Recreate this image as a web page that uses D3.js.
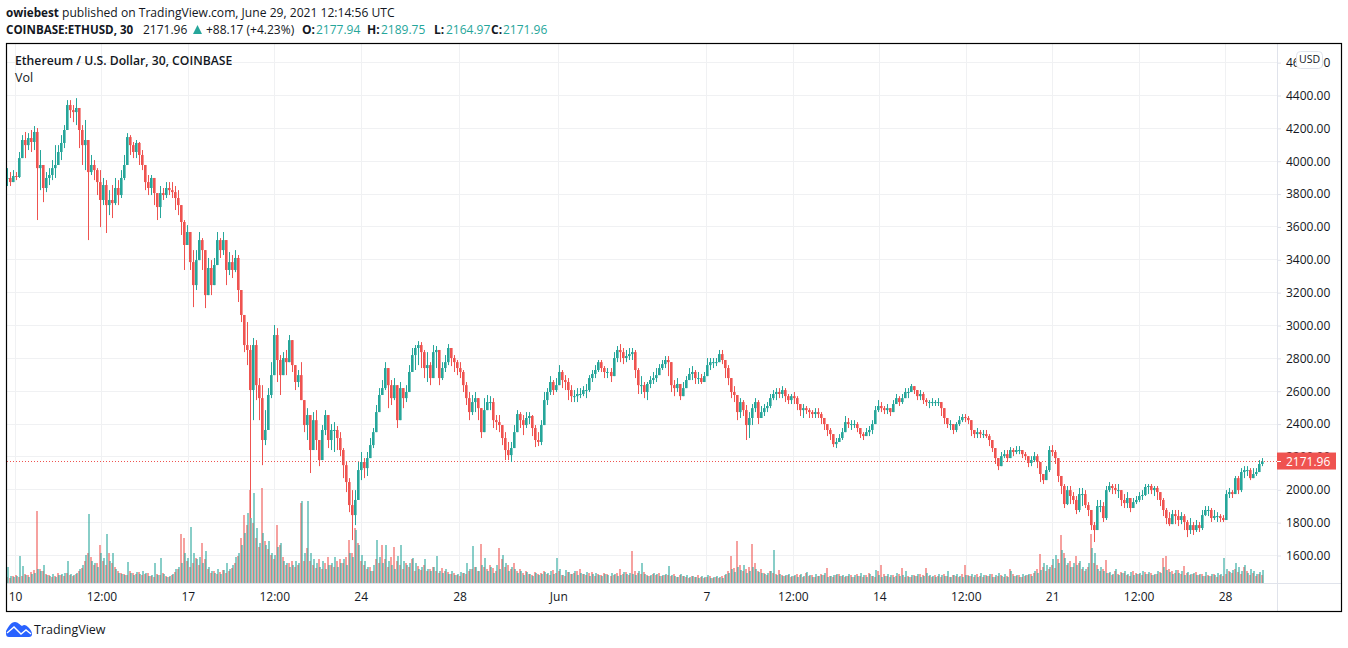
<!DOCTYPE html>
<html><head><meta charset="utf-8">
<style>
html,body{margin:0;padding:0;background:#fff;overflow:hidden}
svg{display:block}
text{font-family:"Open Sans",sans-serif}
</style>
<script src="https://cdn.jsdelivr.net/npm/d3@7"></script>
</head><body><svg id="c" width="1348" height="648"></svg>
<script>
const priceTicks=[1600,1800,2000,2200,2400,2600,2800,3000,3200,3400,3600,3800,4000,4200,4400,4600];
const dayTicks=[0,3.5,7,10.5,14,18,22,28,31.5,35,38.5,42,45.5,49];
const dayLabels=["10","12:00","17","12:00","24","28","Jun","7","12:00","14","12:00","21","12:00","28"];
const firstDay=-0.324, lastDay=50.5;
const lastPrice=2171.96;
const closes=[3898,3873,3910,3904,4019,4129,4098,4141,4117,4178,3958,3977,3837,3898,3916,3958,3977,4056,4111,4190,
4342,4311,4299,4324,4190,4098,4129,3934,3977,3946,3873,
3764,3855,3733,3764,3745,3837,3794,3898,3977,4147,4098,4056,4111,4038,3977,3873,3837,3898,3806,3721,
3806,3794,3837,3824,3812,3776,3733,3630,3490,3569,3386,3246,3398,3520,3459,3185,3350,3246,3368,3520,
3459,3520,3338,3386,3338,3411,3216,3064,2881,2851,
2607,2881,2637,2558,2303,2364,2577,2698,2942,2790,2698,2802,2777,2911,2759,2656,2698,2546,2394,2455,
2242,2424,2303,2181,2364,2455,2303,2364,2364,2315,2242,2150,2047,1907,1846,1938,2120,2169,2132,2193,
2272,2351,2473,2577,2619,2741,2637,2558,2637,2424,2619,2558,2595,2717,2820,2863,2881,2838,2741,2759,
2680,2838,2851,2680,2741,2777,2863,2802,2777,2741,2717,2637,2558,2473,2534,2558,2497,2351,2485,2534,
2534,2424,2412,2394,2315,2242,2211,2254,2351,2461,2424,2394,2437,2449,2376,2303,2291,2394,2546,2595,
2656,2607,2637,2717,2668,2656,2607,2570,2570,2583,2583,2607,2607,2680,2705,2729,2777,2741,2717,2717,
2692,2802,2851,2838,2802,2814,2826,2838,2729,2637,2637,2595,2644,2668,2680,2698,2741,2765,2790,2777,
2637,2619,2644,2570,2619,2668,2705,2717,2680,2680,2656,2692,2759,2777,2777,2777,2826,2790,2741,2680,
2595,2577,2473,2534,2485,2394,2437,2497,2534,2437,2473,2497,2510,2558,2583,2595,2583,2607,2570,2546,
2570,2558,2522,2485,2497,2485,2473,2461,2473,2461,2437,2400,2364,2339,2278,2291,2315,2351,2412,2400,
2400,2400,2376,2339,2327,2351,2364,2400,2485,2510,2497,2485,2497,2473,2522,2558,2534,2558,2595,2595,
2631,2607,2570,2583,2546,2534,2534,2534,2534,2534,2497,2437,2400,2400,2364,2400,2424,2443,2437,2424,
2364,2339,2351,2339,2339,2327,2303,2254,2193,2144,2205,2217,2193,2242,2230,2242,2242,2217,2205,2163,
2181,2205,2169,2096,2059,2120,2242,2230,2193,2084,2023,1913,1998,1962,1938,1877,1974,1974,1907,1877,
1785,1755,1901,1901,1828,1998,2023,2011,1998,1998,1938,1919,1950,1889,1925,1938,1962,1968,2017,2023,
1998,2011,1986,1938,1877,1828,1791,1852,1840,1816,1840,1804,1755,1785,1755,1785,1767,1846,1877,1877,
1828,1840,1840,1828,1816,1974,1986,1974,2071,1998,2108,2120,2120,2071,2096,2108,2157,2172];
const highs=[3958,3934,3946,3934,4056,4159,4178,4171,4190,4214,4202,4068,3977,3934,3958,4007,4098,4098,4159,4220,
4372,4372,4342,4384,4281,4220,4251,4129,4038,4007,3958,
3946,3898,3885,3824,3855,3898,3885,3946,4038,4171,4159,4117,4129,4117,4068,3977,3916,3916,3898,3794,
3849,3837,3873,3873,3873,3849,3824,3733,3642,3611,3569,3459,3459,3569,3532,3459,3411,3398,3411,3569,
3532,3569,3520,3447,3429,3459,3429,3185,3045,3021,
2881,2924,2911,2680,2637,2485,2619,2777,3003,2984,2820,2838,2851,2942,2851,2759,2729,2777,2534,2497,
2351,2473,2485,2303,2394,2485,2424,2400,2412,2388,2351,2254,2169,2071,1998,1998,2169,2230,2193,2230,
2315,2376,2516,2619,2668,2777,2729,2668,2680,2595,2656,2607,2637,2759,2863,2881,2905,2899,2851,2838,
2777,2881,2875,2851,2777,2820,2887,2863,2820,2790,2777,2729,2656,2595,2577,2595,2546,2497,2558,2577,
2570,2558,2455,2455,2394,2351,2291,2291,2394,2485,2473,2455,2473,2473,2455,2394,2351,2424,2595,2619,
2692,2668,2680,2759,2729,2698,2680,2637,2607,2619,2619,2631,2644,2698,2729,2759,2790,2790,2753,2741,
2741,2838,2875,2887,2863,2851,2863,2863,2851,2741,2692,2656,2656,2692,2717,2741,2765,2790,2814,2814,
2717,2668,2680,2637,2656,2692,2741,2753,2729,2717,2705,2717,2802,2802,2802,2802,2851,2851,2777,2759,
2668,2631,2558,2558,2546,2516,2473,2522,2558,2546,2510,2522,2534,2583,2607,2619,2619,2631,2619,2583,
2583,2595,2570,2522,2522,2510,2497,2485,2497,2497,2473,2437,2400,2376,2327,2315,2339,2376,2449,2437,
2424,2424,2412,2376,2351,2376,2388,2424,2510,2546,2534,2510,2522,2497,2546,2583,2570,2583,2619,2619,
2644,2631,2607,2607,2595,2558,2546,2558,2546,2558,2534,2473,2437,2424,2400,2412,2449,2461,2461,2449,
2424,2364,2376,2364,2364,2364,2339,2303,2254,2193,2230,2242,2242,2260,2254,2266,2266,2242,2230,2205,
2205,2230,2217,2169,2096,2144,2266,2272,2242,2193,2084,2035,2023,2023,1986,1962,2011,2011,1998,1925,
1877,1804,1938,1938,1925,2023,2047,2035,2035,2035,1998,1974,1986,1950,1950,1962,1986,1998,2035,2035,
2035,2023,2023,1986,1950,1889,1864,1877,1877,1877,1864,1852,1816,1828,1804,1816,1804,1877,1901,1901,
1889,1877,1864,1852,1846,1998,2011,1998,2084,2084,2132,2144,2144,2132,2132,2132,2181,2193];
const lows=[3849,3849,3873,3885,3898,4019,4019,4068,4056,4068,3642,3824,3751,3812,3855,3885,3898,3977,4007,4080,
4220,4263,4238,4220,4080,3977,3946,3520,3916,3885,3794,
3599,3733,3563,3672,3654,3733,3733,3776,3885,3977,4038,4019,4019,3977,3946,3824,3794,3794,3733,3642,
3654,3764,3776,3794,3776,3703,3672,3551,3338,3490,3338,3112,3216,3429,3338,3106,3185,3185,3307,3411,
3411,3429,3246,3307,3289,3325,3143,3021,2838,2759,
1828,2424,2546,2424,2150,2272,2424,2558,2698,2656,2577,2717,2698,2777,2717,2607,2625,2546,2351,2303,
2102,2303,2242,2144,2211,2333,2254,2242,2230,2242,2205,2071,1986,1864,1694,1785,1998,2059,2071,2084,
2193,2254,2394,2497,2577,2607,2497,2516,2546,2376,2516,2497,2534,2637,2717,2729,2759,2741,2680,2656,
2637,2729,2741,2637,2668,2717,2759,2753,2717,2698,2680,2595,2516,2424,2455,2473,2424,2315,2437,2485,
2485,2376,2364,2351,2272,2181,2181,2169,2272,2388,2376,2333,2376,2400,2327,2260,2266,2272,2394,2516,
2577,2577,2595,2668,2619,2607,2546,2534,2534,2534,2558,2570,2558,2595,2656,2680,2717,2717,2680,2680,
2656,2717,2777,2777,2765,2777,2790,2790,2680,2583,2583,2558,2546,2619,2644,2656,2705,2729,2741,2692,
2595,2570,2595,2546,2583,2631,2668,2668,2644,2644,2644,2656,2717,2729,2741,2753,2790,2765,2680,2637,
2558,2534,2424,2437,2449,2303,2315,2394,2473,2400,2437,2449,2473,2497,2546,2546,2558,2558,2534,2522,
2522,2522,2485,2449,2437,2461,2437,2437,2437,2437,2400,2364,2327,2303,2260,2254,2291,2303,2376,2376,
2364,2376,2351,2315,2303,2327,2327,2339,2400,2473,2473,2461,2461,2449,2473,2522,2510,2522,2558,2558,
2595,2583,2546,2546,2522,2510,2497,2510,2510,2510,2449,2400,2376,2364,2339,2351,2388,2412,2412,2400,
2327,2315,2315,2315,2315,2315,2266,2230,2157,2120,2169,2193,2169,2193,2205,2217,2217,2193,2181,2138,
2144,2169,2132,2047,2035,2059,2108,2205,2157,2047,1974,1889,1907,1913,1913,1852,1864,1901,1889,1840,
1755,1682,1755,1864,1804,1816,1986,1974,1974,1950,1901,1889,1889,1864,1889,1913,1925,1938,1962,1974,
1974,1962,1938,1901,1840,1791,1779,1804,1791,1779,1791,1755,1712,1731,1725,1743,1743,1755,1840,1840,
1804,1816,1804,1804,1804,1828,1950,1950,1974,1974,1986,2071,2084,2059,2071,2084,2108,2144];
const volRed=[6,5,7,8,6,7,9,8,11,13,72,14,12,9,8,6,7,10,8,7,
10,8,7,9,12,15,22,30,26,18,20,38,22,18,30,20,16,12,10,9,
8,12,10,9,11,8,9,10,7,6,9,8,10,7,6,8,11,14,49,45,
22,16,20,25,18,40,24,14,10,12,9,11,13,10,12,15,20,27,45,68,
58,93,60,45,36,95,42,34,28,24,58,38,26,18,20,22,16,18,80,22,
35,22,18,15,24,14,20,26,18,16,22,24,20,26,43,30,55,40,22,18,
14,16,12,24,20,38,24,16,26,36,22,18,14,20,16,24,12,17,13,18,
12,14,16,12,10,15,12,11,9,10,8,7,10,9,12,14,16,12,39,16,
14,18,15,12,35,24,16,18,14,20,12,14,10,12,9,8,11,9,10,12,
9,8,13,10,12,8,7,11,9,10,12,14,9,8,10,11,7,9,8,10,
9,7,8,10,14,9,11,8,32,12,10,9,11,8,7,9,8,10,7,8,
8,7,9,6,8,7,6,5,7,6,8,6,5,6,7,5,6,5,7,8,
12,27,15,42,18,12,14,16,39,20,12,14,10,8,12,10,9,13,8,7,
8,6,7,9,8,6,10,7,8,6,7,9,8,15,7,6,8,9,7,6,
7,8,6,9,7,6,8,10,7,6,12,18,9,7,6,8,7,9,15,6,
7,6,8,7,9,8,15,7,6,8,7,6,9,7,6,8,7,6,9,18,
8,7,6,9,7,6,8,7,9,6,7,8,6,7,14,9,7,8,6,7,
8,9,10,14,29,16,12,14,18,15,24,48,30,18,22,16,27,20,14,12,
16,49,20,18,12,14,23,10,8,12,9,11,10,8,7,12,10,9,8,11,
9,10,8,9,11,25,27,14,12,10,13,9,17,10,8,9,11,8,9,7,
8,7,9,6,8,7,9,12,10,14,11,9,16,12,8,10,7,9,8];
const volTeal=[16,7,6,7,27,17,8,6,9,10,14,12,18,8,7,9,6,8,9,10,
22,9,8,10,14,18,28,69,22,20,16,30,25,49,22,30,14,10,9,8,
21,10,8,11,9,12,10,7,8,20,8,25,9,6,7,9,14,16,20,30,
25,56,30,24,26,20,32,16,12,10,14,9,13,20,14,18,26,30,38,50,
70,65,90,55,40,50,38,42,30,28,36,40,22,20,16,18,22,20,82,30,
82,30,24,20,16,22,14,18,20,26,16,20,24,18,30,26,53,38,28,22,
16,12,18,43,26,20,38,22,18,14,27,38,22,18,20,25,20,14,16,24,
14,12,16,27,12,10,14,9,12,8,9,11,10,20,14,37,16,12,18,25,
12,16,10,18,14,28,20,12,16,14,10,12,8,11,9,7,10,8,9,11,
10,12,9,25,14,8,13,11,9,12,8,10,9,11,7,9,10,8,7,9,
8,10,9,7,8,11,9,10,9,8,12,20,9,7,8,10,9,7,8,9,
17,8,7,6,9,7,8,6,7,6,5,7,6,8,5,6,7,6,5,9,
10,14,11,16,13,18,10,12,16,14,11,10,9,10,12,33,8,9,7,8,
9,7,8,6,9,7,11,8,6,9,7,8,10,6,7,8,9,7,8,7,
9,6,8,7,10,8,6,9,7,13,8,6,7,9,8,6,10,7,8,12,
6,8,7,9,6,7,10,8,7,6,9,8,7,12,6,8,9,7,6,8,
7,9,8,6,10,8,7,9,6,8,10,7,9,6,12,7,8,6,9,8,
9,7,12,10,13,20,18,16,24,28,20,33,25,20,16,20,18,22,16,14,
20,35,30,14,16,12,10,11,9,14,8,10,12,9,11,8,9,10,12,9,
11,8,9,12,10,16,13,11,9,13,10,12,8,11,9,10,8,9,7,11,
7,9,8,10,9,25,14,11,13,20,16,12,18,10,14,12,9,11,13];

const UP="#26a69a",DOWN="#ef5350",TXT="#131722",GRID="#f0f1f3",AXIS="#e0e3eb";
const svg=d3.select("#c");
const pane={l:7,r:1277,t:44,b:583};
const x=d3.scaleLinear().domain([0,49]).range([15,1225]);
const y=d3.scaleLinear().domain([1600,4400]).range([555.5,95.5]);
const yVol=d3.scaleLinear().domain([0,100]).range([583,483]);
const n=closes.length;
const barDay=d3.scaleLinear().domain([0,n-1]).range([firstDay,lastDay]);
const barX=i=>Math.round(x(barDay(i)));

svg.append("defs").append("clipPath").attr("id","pane").append("rect")
  .attr("x",pane.l).attr("y",pane.t).attr("width",pane.r-pane.l).attr("height",pane.b-pane.t);

// grid
const grid=svg.append("g").attr("fill","none").attr("stroke",GRID).attr("stroke-width",1);
grid.selectAll("line.h").data(priceTicks).join("line")
  .attr("x1",pane.l).attr("x2",pane.r).attr("y1",d=>Math.floor(y(d))+.5).attr("y2",d=>Math.floor(y(d))+.5);
grid.selectAll("line.v").data(dayTicks).join("line")
  .attr("y1",pane.t).attr("y2",pane.b).attr("x1",d=>Math.round(x(d))+.5).attr("x2",d=>Math.round(x(d))+.5);

const plot=svg.append("g").attr("clip-path","url(#pane)");
// volume
const vols=plot.append("g");
vols.selectAll("rect.r").data(volRed).join("rect").attr("fill",DOWN).attr("opacity",.55)
  .attr("x",(d,i)=>barX(i)-1).attr("width",2).attr("y",d=>yVol(d)).attr("height",d=>yVol(0)-yVol(d));
vols.selectAll("rect.t").data(volTeal).join("rect").attr("fill",UP).attr("opacity",.55)
  .attr("x",(d,i)=>barX(i)).attr("width",2).attr("y",d=>yVol(d)).attr("height",d=>yVol(0)-yVol(d));

// last price line
plot.append("line").attr("x1",pane.l).attr("x2",pane.r).attr("y1",Math.floor(y(lastPrice))+.5).attr("y2",Math.floor(y(lastPrice))+.5)
  .attr("stroke",DOWN).attr("stroke-width",1).attr("stroke-dasharray","1 2");

// candles
const candles=closes.map((c,i)=>({i,c,o:i?closes[i-1]:c,h:highs[i],l:lows[i]}));
const cg=plot.append("g").selectAll("g").data(candles).join("g")
  .attr("fill",d=>d.c>=d.o?UP:DOWN);
cg.append("rect").attr("x",d=>barX(d.i)).attr("width",1)
  .attr("y",d=>y(Math.max(d.h,d.o,d.c))).attr("height",d=>y(Math.min(d.l,d.o,d.c))-y(Math.max(d.h,d.o,d.c)));
cg.append("rect").attr("x",d=>barX(d.i)-1).attr("width",2.6)
  .attr("y",d=>y(Math.max(d.o,d.c))).attr("height",d=>Math.max(1,Math.abs(y(d.o)-y(d.c))));

// axis lines
svg.append("line").attr("x1",pane.r+.5).attr("x2",pane.r+.5).attr("y1",pane.t).attr("y2",611).attr("stroke",AXIS);
svg.append("line").attr("x1",pane.l).attr("x2",1341).attr("y1",pane.b+.5).attr("y2",pane.b+.5).attr("stroke",AXIS);

// price axis
const ya=svg.append("g").attr("transform",`translate(${pane.r},0)`)
  .call(d3.axisRight(y).tickValues(priceTicks).tickFormat(d3.format(".2f")).tickSize(4).tickPadding(5));
ya.select(".domain").remove();
ya.selectAll("line").attr("stroke",AXIS);
ya.selectAll("text").attr("fill",TXT).attr("font-size",12).attr("font-family","'Open Sans',sans-serif");

// time axis
const xa=svg.append("g").attr("transform",`translate(0,${pane.b})`)
  .call(d3.axisBottom(x).tickValues(dayTicks).tickFormat((d,i)=>dayLabels[i]).tickSize(0).tickPadding(9));
xa.select(".domain").remove();
xa.selectAll("text").attr("fill",TXT).attr("font-size",12).attr("font-family","'Open Sans',sans-serif");

// last price label
svg.append("rect").attr("x",pane.r).attr("y",y(lastPrice)-9).attr("width",59).attr("height",17).attr("fill",DOWN);
svg.append("line").attr("x1",pane.r).attr("x2",pane.r+4).attr("y1",Math.floor(y(lastPrice))+.5).attr("y2",Math.floor(y(lastPrice))+.5).attr("stroke","#fff");
svg.append("text").attr("x",pane.r+9).attr("y",y(lastPrice)+4).attr("fill","#fff").attr("font-size",12).text(lastPrice.toFixed(2));

// USD badge
svg.append("rect").attr("x",1296.5).attr("y",51.5).attr("width",26).attr("height",17).attr("rx",4).attr("fill","#fff").attr("stroke",AXIS);
svg.append("text").attr("x",1309.5).attr("y",63).attr("text-anchor","middle").attr("fill",TXT).attr("font-size",10.5).text("USD");

// frame
svg.append("rect").attr("x",6.5).attr("y",43.5).attr("width",1335).attr("height",568).attr("fill","none").attr("stroke","#000").attr("stroke-width",1.2);

// pane titles
svg.append("text").attr("x",15).attr("y",65).attr("fill",TXT).attr("font-size",12.2).attr("font-weight",600).text("Ethereum / U.S. Dollar, 30, COINBASE");
svg.append("text").attr("x",15).attr("y",82).attr("fill",TXT).attr("font-size",12.5).text("Vol");

// header
const l1=svg.append("text").attr("x",6).attr("y",17).attr("fill",TXT).attr("font-size",12.1);
l1.append("tspan").attr("font-weight",700).attr("font-size",11.7).text("owiebest");
l1.append("tspan").text(" published on TradingView.com, June 29, 2021 12:14:56 UTC");
const row=[[6,"COINBASE:ETHUSD, 30",700,TXT,11.6],[143,"2171.96",400,TXT,12],[206,"+88.17 (+4.23%)",400,TXT,12],
 [302,"O:",700,TXT,12],[316,"2177.94",400,UP,12],[367,"H:",700,TXT,12],[381,"2189.75",400,UP,12],[434,"L:",700,TXT,12],[446,"2164.97",400,UP,12],[491,"C:",700,TXT,12],[503,"2171.96",400,UP,12]];
svg.append("g").selectAll("text").data(row).join("text").attr("x",d=>d[0]).attr("y",34).attr("font-size",d=>d[4])
  .attr("font-weight",d=>d[2]).attr("fill",d=>d[3]).text(d=>d[1]);
svg.append("path").attr("d",d3.line()([[193,34],[197.5,25],[202,34]])+"Z").attr("fill",UP);

// logo
const logo=svg.append("g");
logo.append("path").attr("fill","#2962ff").attr("d","M6 633 L6 631 C8 627 11 622 15 622 C18 622 20 625 22 626 C24 624 26 625 28 627 C30 629 32 631 32 634 C32 636 31 637 29 637 L9 637 C7 637 6 636 6 633 Z");
logo.append("path").attr("fill","none").attr("stroke","#fff").attr("stroke-width",1.4).attr("d","M7 633 L14 627 L21 634 L26 630 L31 634");
svg.append("text").attr("x",34).attr("y",634).attr("fill",TXT).attr("font-size",12.5).text("TradingView");
</script></body></html>
